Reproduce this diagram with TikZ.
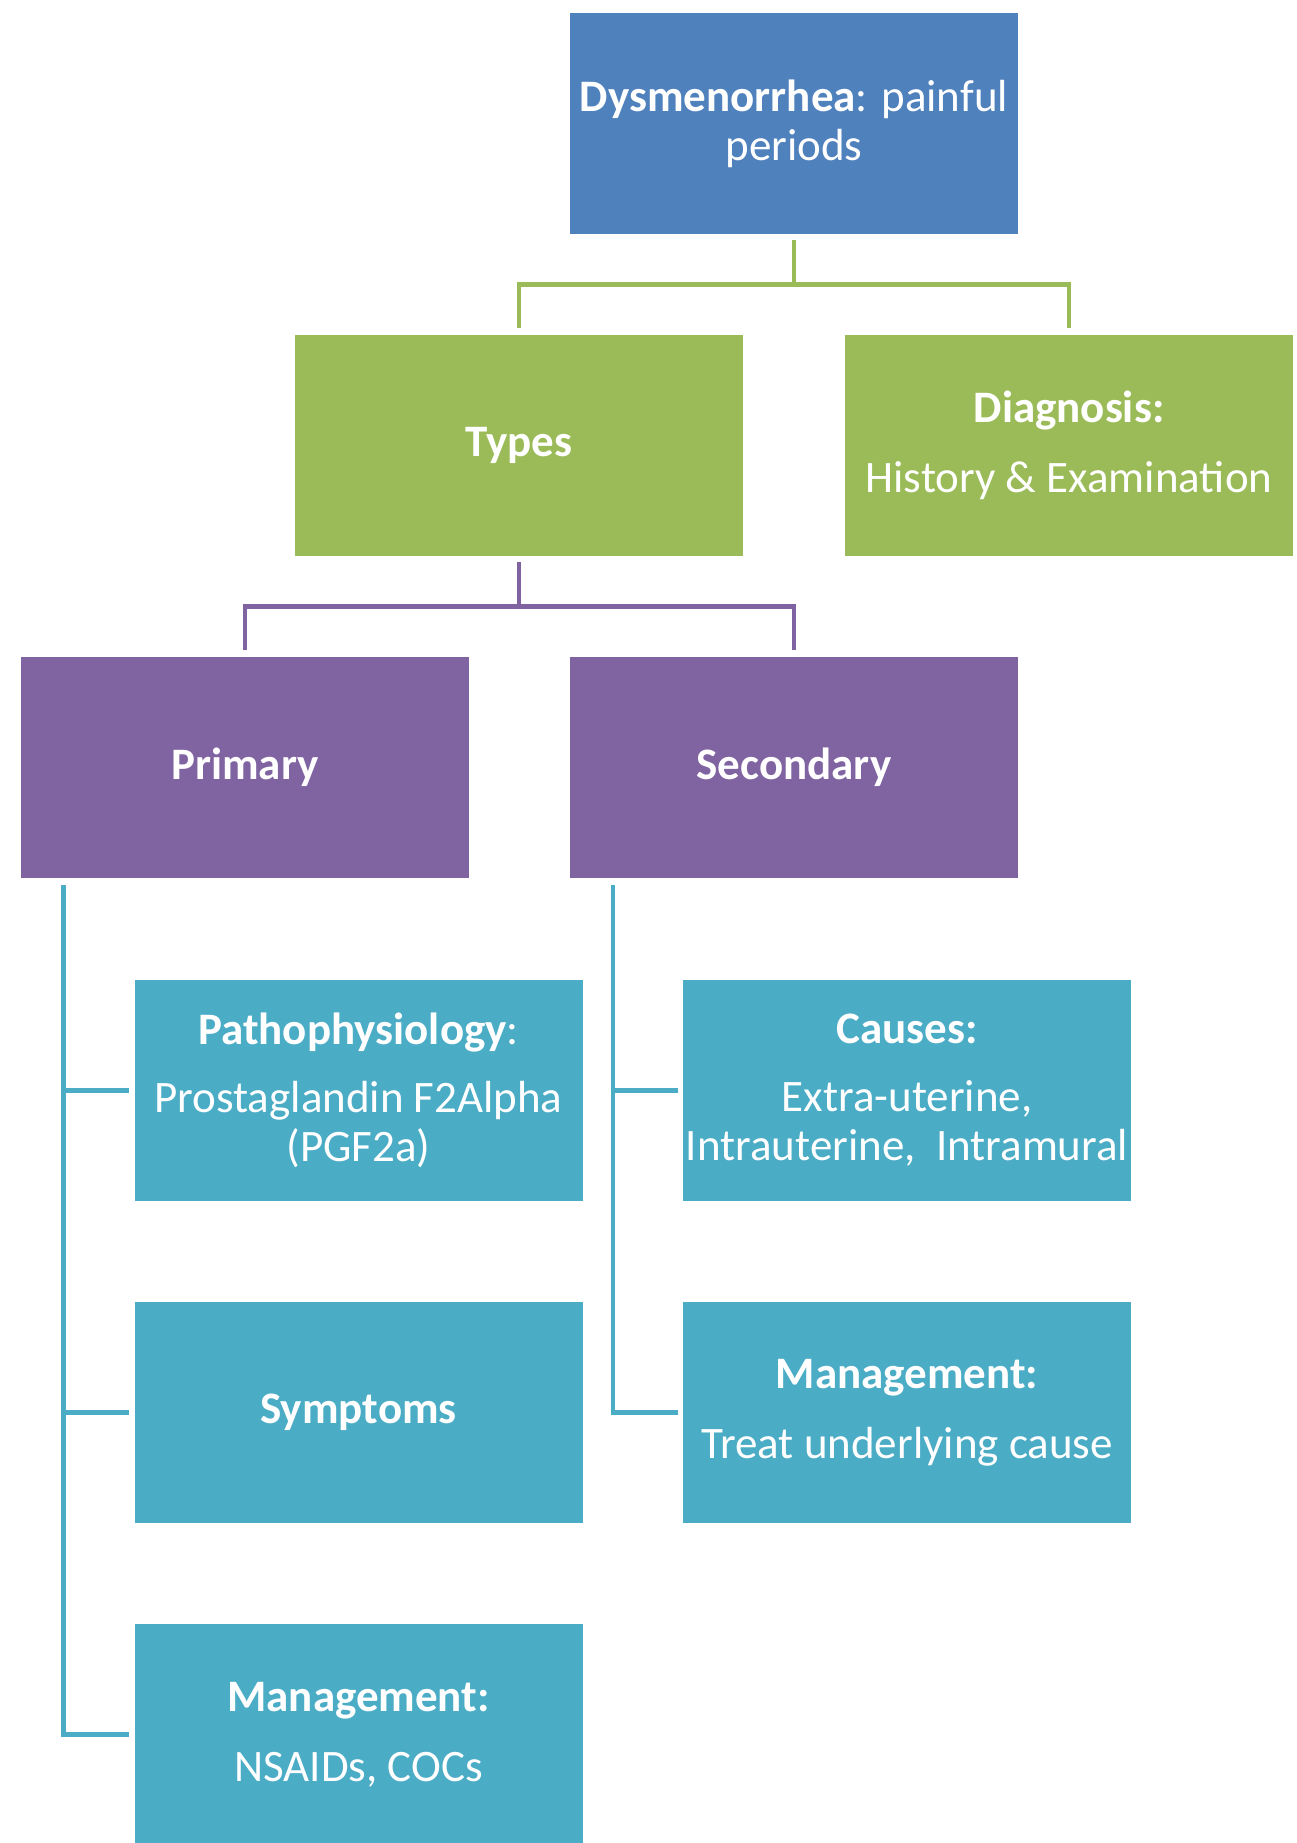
\documentclass[tikz,border=0pt]{standalone}
\usepackage{fontspec}
\setmainfont{Carlito}
\usetikzlibrary{calc}
\definecolor{cblue}{HTML}{4F81BD}
\definecolor{cgreen}{HTML}{9BBB59}
\definecolor{cpurple}{HTML}{8064A2}
\definecolor{cteal}{HTML}{4BACC6}
\tikzset{
  box/.style={rectangle, inner sep=0pt, minimum width=448pt, minimum height=221pt,
    text=white, align=center, font=\fontsize{45}{49}\selectfont},
  bluebox/.style={box, fill=cblue},
  greenbox/.style={box, fill=cgreen},
  purplebox/.style={box, fill=cpurple},
  tealbox/.style={box, fill=cteal},
  conn/.style={line width=4.5pt, line join=miter},
  gconn/.style={conn, draw=cgreen},
  pconn/.style={conn, draw=cpurple},
  tconn/.style={conn, draw=cteal},
}
\begin{document}
\begin{tikzpicture}[x=1pt,y=-1pt]
\useasboundingbox (0,0) rectangle (1297,1843);
\node[bluebox]   (top)   at (794,123.5)  {\textbf{Dysmenorrhea}: painful\\periods};
\node[greenbox]  (types) at (519,445.5)  {\textbf{Types}};
\node[greenbox]  (diag)  at (1069,445.5) {\textbf{Diagnosis:}\\[21pt]History \& Examination};
\node[purplebox] (prim)  at (245,767.5)  {\textbf{Primary}};
\node[purplebox] (sec)   at (794,767.5)  {\textbf{Secondary}};
\node[tealbox]   (patho) at (358.5,1090.5) {\textbf{Pathophysiology}:\\[19pt]Prostaglandin F2Alpha\\(PGF2a)};
\node[tealbox]   (caus)  at (907,1090.5) {\textbf{Causes:}\\[19pt]Extra-uterine,\\Intrauterine,\ \ Intramural};
\node[tealbox]   (symp)  at (358.5,1412.5) {\textbf{Symptoms}};
\node[tealbox]   (mgm2)  at (907,1412.5) {\textbf{Management:}\\[21pt]Treat underlying cause};
\node[tealbox]   (mgm1)  at (358.5,1734.5) {\textbf{Management:}\\[21pt]NSAIDs, COCs};
% green connector
\coordinate (gj) at ($(top.south)!0.5!(top.south |- types.north)$);
\draw[gconn] ([yshift=-6pt]top.south) -- (gj);
\draw[gconn] ([yshift=7pt]types.north) |- (gj) -| ([yshift=7pt]diag.north);
% purple connector
\coordinate (pj) at ($(types.south)!0.5!(types.south |- prim.north)$);
\draw[pconn] ([yshift=-6pt]types.south) -- (pj);
\draw[pconn] ([yshift=7pt]prim.north) |- (pj) -| ([yshift=7pt]sec.north);
% teal connectors left
\coordinate (tl) at ([xshift=42.5pt,yshift=-7pt]prim.south west);
\draw[tconn] (tl) |- ([xshift=-5pt]mgm1.west);
\draw[tconn] (tl |- patho.west) -- ([xshift=-5pt]patho.west);
\draw[tconn] (tl |- symp.west) -- ([xshift=-5pt]symp.west);
% teal connectors right
\coordinate (tr) at ([xshift=43pt,yshift=-7pt]sec.south west);
\draw[tconn] (tr) |- ([xshift=-5pt]mgm2.west);
\draw[tconn] (tr |- caus.west) -- ([xshift=-5pt]caus.west);
\end{tikzpicture}
\end{document}
